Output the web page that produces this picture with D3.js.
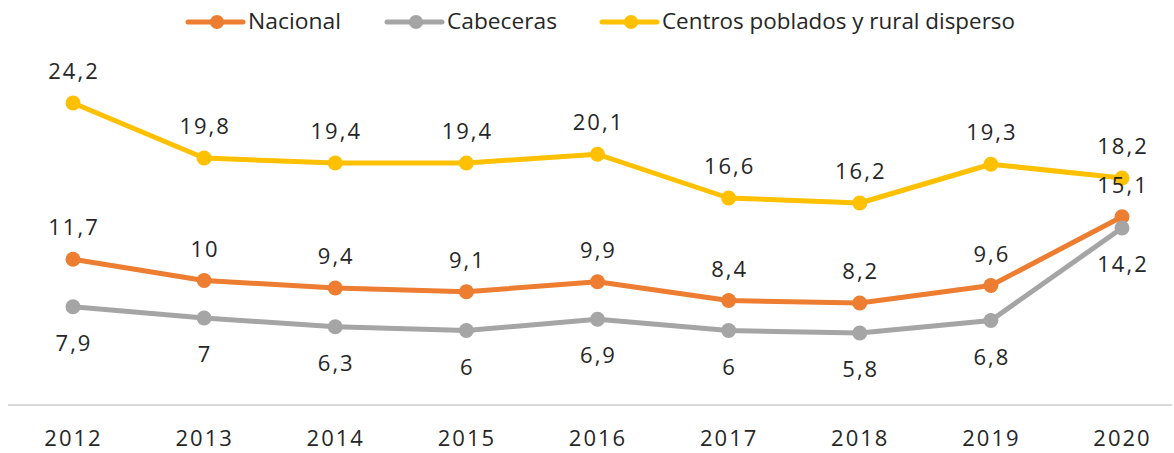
<!DOCTYPE html>
<html>
<head>
<meta charset="utf-8">
<script src="https://cdn.jsdelivr.net/npm/d3@7"></script>
<style>
  body { margin: 0; background: #fff; }
  svg text { fill: #262626; }
</style>
</head>
<body>
<div id="vis"></div>
<script>
// frame
const FRAME_WIDTH = 1174;
const FRAME_HEIGHT = 453;

// data
const years = ["2012","2013","2014","2015","2016","2017","2018","2019","2020"];
const nacional = [11.7, 10, 9.4, 9.1, 9.9, 8.4, 8.2, 9.6, 15.1];
const cabeceras = [7.9, 7, 6.3, 6, 6.9, 6, 5.8, 6.8, 14.2];
const centros = [24.2, 19.8, 19.4, 19.4, 20.1, 16.6, 16.2, 19.3, 18.2];
const seriesNames = ["Nacional", "Cabeceras", "Centros poblados y rural disperso"];

const series = [
  {name: seriesNames[0], values: nacional, color: "#ED7D31", pos: "above"},
  {name: seriesNames[1], values: cabeceras, color: "#A5A5A5", pos: "below"},
  {name: seriesNames[2], values: centros, color: "#FFC000", pos: "above"}
];

const FONT = "'Open Sans', sans-serif";

const svg = d3.select("#vis")
  .append("svg")
    .attr("width", FRAME_WIDTH)
    .attr("height", FRAME_HEIGHT);

// scales
const X_SCALE = d3.scalePoint()
  .domain(years)
  .range([73, 1122]);

const Y_SCALE = d3.scaleLinear()
  .domain([0, 30])
  .range([405.5, 30.5]);

// axis line
svg.append("line")
  .attr("x1", 8).attr("x2", 1172)
  .attr("y1", 405).attr("y2", 405)
  .attr("stroke", "#d9d9d9")
  .attr("stroke-width", 2);

// x axis labels
const xAxis = svg.append("g")
  .attr("transform", "translate(0,405)")
  .call(d3.axisBottom(X_SCALE).tickSize(0).tickPadding(25));
xAxis.select(".domain").remove();
xAxis.selectAll("text")
  .attr("font-family", FONT)
  .attr("font-size", "22px")
  .attr("letter-spacing", "2px")
  .attr("fill", "#262626");

const line = d3.line()
  .x((d, i) => X_SCALE(years[i]))
  .y(d => Y_SCALE(d));

// draw lines, points in order: nacional, cabeceras, centros
series.forEach(s => {
  svg.append("path")
    .datum(s.values)
    .attr("d", line)
    .attr("fill", "none")
    .attr("stroke", s.color)
    .attr("stroke-width", 5)
    .attr("stroke-linejoin", "round");

  svg.selectAll(null)
    .data(s.values)
    .enter()
    .append("circle")
      .attr("cx", (d, i) => X_SCALE(years[i]))
      .attr("cy", d => Y_SCALE(d))
      .attr("r", 7.5)
      .attr("fill", s.color);
});

// labels
series.forEach(s => {
  svg.selectAll(null)
    .data(s.values)
    .enter()
    .append("text")
      .attr("x", (d, i) => X_SCALE(years[i]) + 1)
      .attr("y", d => Y_SCALE(d) + (s.pos === "above" ? -24 : 44))
      .attr("text-anchor", "middle")
      .attr("font-family", FONT)
      .attr("font-size", "22px")
      .attr("letter-spacing", "2px")
      .text(d => String(d).replace(".", ","));
});

// legend
const legendItems = [
  {s: series[0], x: 188, w: 93},
  {s: series[1], x: 387, w: 110},
  {s: series[2], x: 602, w: 353}
];
const legend = svg.append("g");
legendItems.forEach(it => {
  legend.append("line")
    .attr("x1", it.x).attr("x2", it.x + 55)
    .attr("y1", 22).attr("y2", 22)
    .attr("stroke", it.s.color)
    .attr("stroke-width", 5)
    .attr("stroke-linecap", "round");
  legend.append("circle")
    .attr("cx", it.x + 29).attr("cy", 22)
    .attr("r", 7)
    .attr("fill", it.s.color);
  legend.append("text")
    .attr("x", it.x + 60)
    .attr("y", 29)
    .attr("font-family", FONT)
    .attr("font-size", "22px")
    .attr("textLength", it.w)
    .attr("lengthAdjust", "spacingAndGlyphs")
    .text(it.s.name);
});
</script>
</body>
</html>
